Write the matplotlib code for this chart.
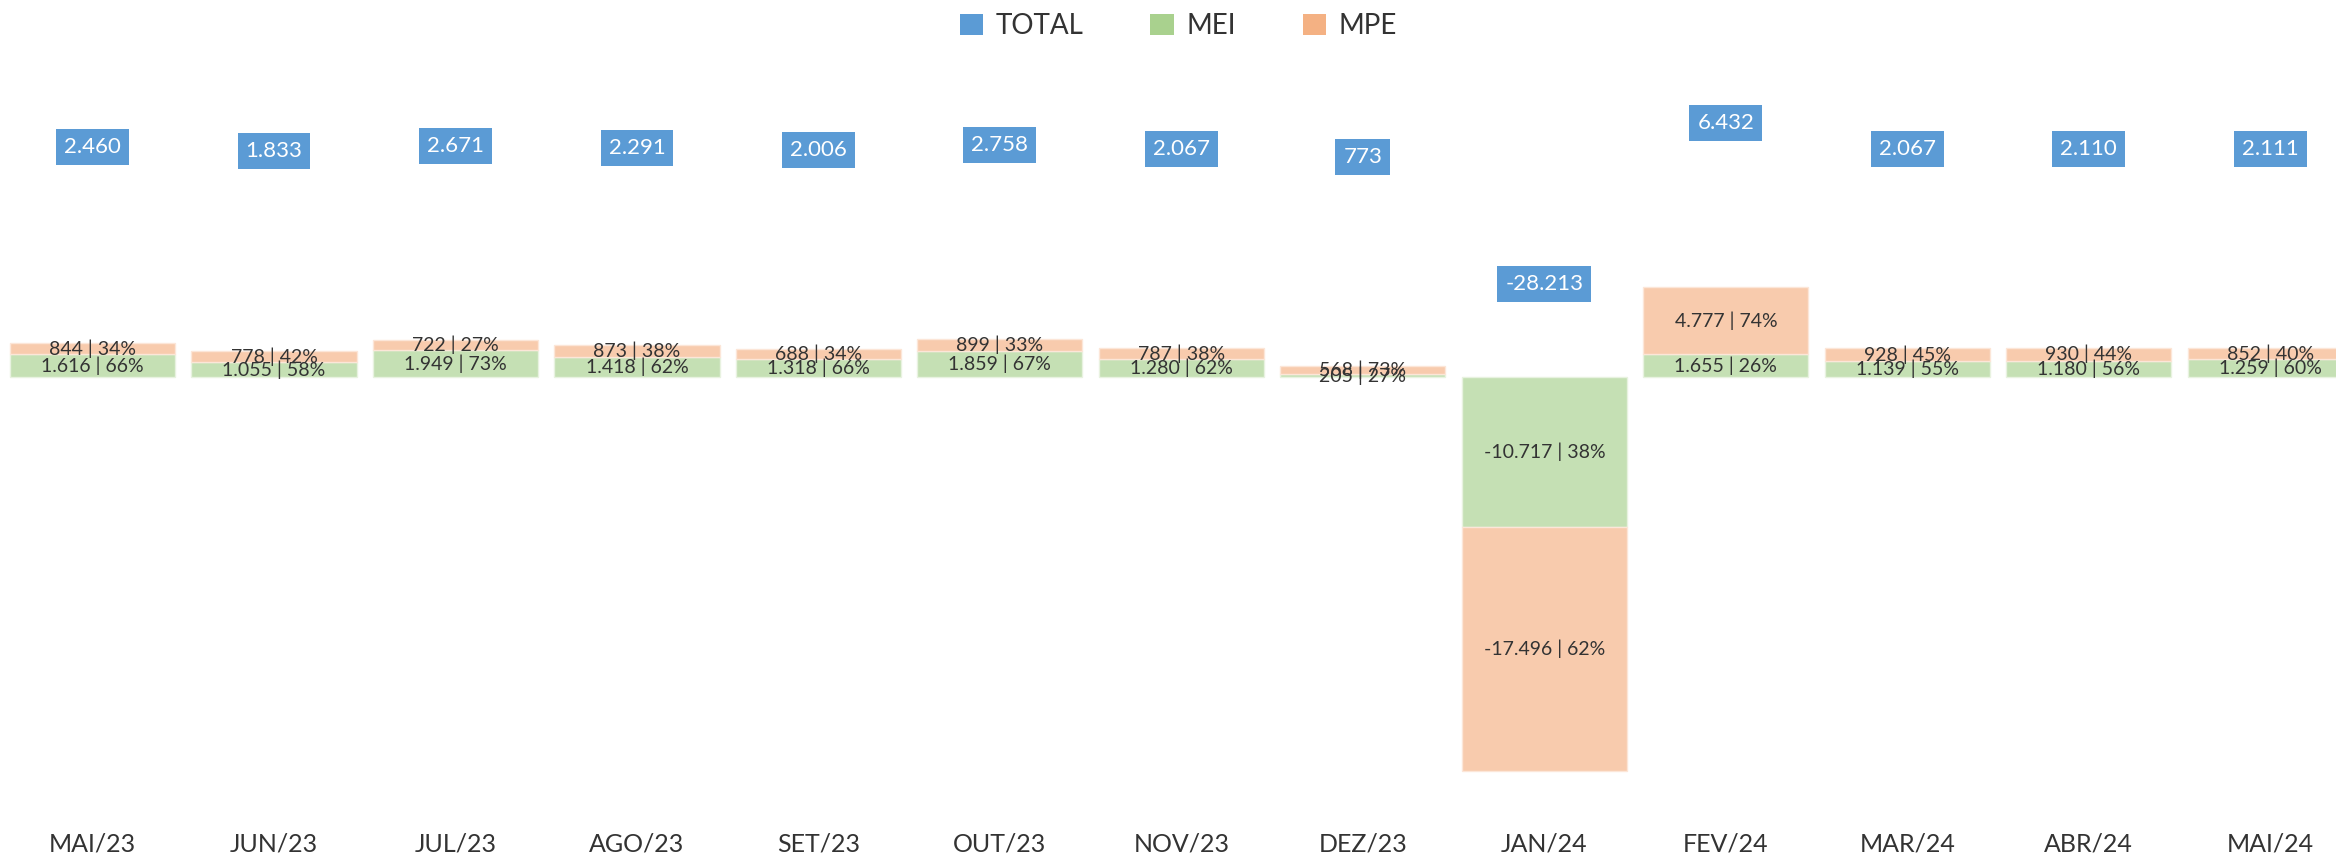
import matplotlib
matplotlib.use("Agg")
import matplotlib.pyplot as plt
from matplotlib.patches import Patch
import numpy as np

plt.rcParams['font.family'] = ['Lato', 'DejaVu Sans']

# Monthly balance split into MEI and MPE
months = ["MAI/23", "JUN/23", "JUL/23", "AGO/23", "SET/23", "OUT/23", "NOV/23",
          "DEZ/23", "JAN/24", "FEV/24", "MAR/24", "ABR/24", "MAI/24"]
mei = [1616, 1055, 1949, 1418, 1318, 1859, 1280, 205, -10717, 1655, 1139, 1180, 1259]
mpe = [844, 778, 722, 873, 688, 899, 787, 568, -17496, 4777, 928, 930, 852]
total = [2460, 1833, 2671, 2291, 2006, 2758, 2067, 773, -28213, 6432, 2067, 2110, 2111]

C_TOTAL = "#5B9BD5"
C_MEI = "#A9D18E"
C_MPE = "#F4B183"
C_MEI_BAR = "#C5E0B4"
C_MPE_BAR = "#F8CBAD"
TXT = "#333333"


def fmt(v):
    return f"{v:,}".replace(",", ".")


W, H, DPI = 2336, 860, 100
fig = plt.figure(figsize=(W / DPI, H / DPI), dpi=DPI)

ax_top, ax_bot = 60, 780
ax = fig.add_axes([1.75 / W, (H - ax_bot) / H, 2359.25 / W, (ax_bot - ax_top) / H])
ax2 = ax.twinx()

x = np.arange(len(months))
mei_a = np.array(mei)
mpe_a = np.array(mpe)
tot_a = np.array(total)

# stacked bars: MEI at the base, MPE on top (both go downward when negative)
ax.bar(x, mei_a, width=0.91, color=C_MEI_BAR, edgecolor="#E8F2E0", linewidth=1, zorder=2)
ax.bar(x, mpe_a, width=0.91, bottom=mei_a, color=C_MPE_BAR, edgecolor="#FCE6D8",
       linewidth=1, zorder=2)

for i in range(len(months)):
    t = tot_a[i]
    p_mei = round(100 * mei_a[i] / t)
    p_mpe = round(100 * mpe_a[i] / t)
    ax.text(x[i], mei_a[i] / 2, f"{fmt(mei_a[i])} | {p_mei}%", ha="center", va="center",
            fontsize=14, color=TXT, zorder=4)
    ax.text(x[i], mei_a[i] + mpe_a[i] / 2, f"{fmt(mpe_a[i])} | {p_mpe}%", ha="center",
            va="center", fontsize=14, color=TXT, zorder=4)

# main value axis: zero at y=377 px, 0.013954 px per unit
k1, z1 = 0.013954, 377
ax.set_ylim(-(ax_bot - z1) / k1, (z1 - ax_top) / k1)
ax.set_xlim(-0.5, len(months) - 0.5)

# totals on a secondary axis, labelled inside the bar end
k2, z2 = 0.00605, 137.6
ax2.set_ylim(-(ax_bot - z2) / k2, (z2 - ax_top) / k2)
ax2.bar(x, tot_a, width=0.91, color="none", edgecolor="none")
off = 24.3 * 72 / DPI
for i, t in enumerate(tot_a):
    ax2.annotate(fmt(t), xy=(x[i], t), xytext=(0, -off if t > 0 else off),
                 textcoords="offset points", ha="center", va="center", fontsize=16,
                 color="white", zorder=5,
                 bbox=dict(boxstyle="square,pad=0.36", facecolor=C_TOTAL, edgecolor="none"))

for a in (ax, ax2):
    for s in a.spines.values():
        s.set_visible(False)
    a.set_yticks([])
ax.set_xticks(x, months)
ax.tick_params(axis="x", length=0, pad=38, labelsize=18, labelcolor=TXT)
ax2.tick_params(axis="x", length=0)

handles = [Patch(facecolor=C_TOTAL, label="TOTAL"),
           Patch(facecolor=C_MEI, label="MEI"),
           Patch(facecolor=C_MPE, label="MPE")]
fig.legend(handles=handles, loc="center", bbox_to_anchor=(1178.5 / W, 1 - 26 / H), ncol=3,
           frameon=False, fontsize=20, handlelength=0.85, handleheight=0.78,
           handletextpad=0.45, columnspacing=2.4, labelcolor=TXT)

fig.savefig("out.png", dpi=DPI)
